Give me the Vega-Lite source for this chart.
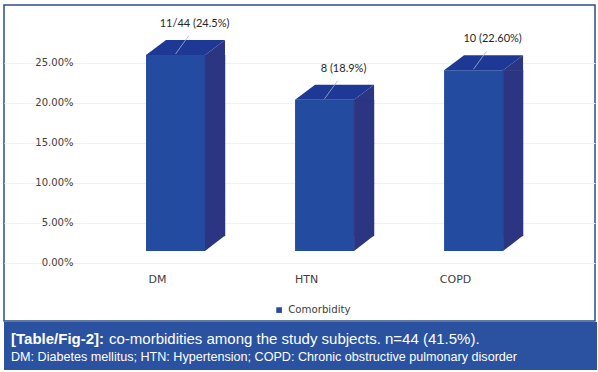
{
  "$schema": "https://vega.github.io/schema/vega-lite/v6.json",
  "background": "white",
  "padding": {"left": 3, "top": 4, "right": 0, "bottom": 0},
  "spacing": 0,
  "config": {"font": "DejaVu Sans"},
  "datasets": {
    "bars": [
      {"category": "DM", "share": 0.245, "label": "11/44 (24.5%)", "series": "Comorbidity"},
      {"category": "HTN", "share": 0.189, "label": "8 (18.9%)", "series": "Comorbidity"},
      {"category": "COPD", "share": 0.226, "label": "10 (22.60%)", "series": "Comorbidity"}
    ],
    "caption": [
      {"prefix": "[Table/Fig-2]:", "line1": "co-morbidities among the study subjects. n=44 (41.5%).", "line2": "DM: Diabetes mellitus; HTN: Hypertension; COPD: Chronic obstructive pulmonary disorder"}
    ]
  },
  "vconcat": [
    {
      "width": 591,
      "height": 316,
      "view": {"stroke": "#2e4c84", "strokeWidth": 1.5, "fill": "white"},
      "data": {"name": "bars"},
      "encoding": {
        "x": {
          "field": "category", "type": "nominal", "sort": null,
          "scale": {"paddingInner": 0, "paddingOuter": 0.483, "align": 0.674},
          "axis": {"title": null, "domain": false, "ticks": false, "labelPadding": 0, "offset": -48, "labelOffset": -18, "labelFont": "DejaVu Sans", "labelFontSize": 11, "labelColor": "#404040", "labelAngle": 0, "labelBaseline": "top", "grid": false}
        },
        "y": {
          "field": "share", "type": "quantitative",
          "scale": {"domain": [-0.0875, 0.3075], "nice": false, "zero": false},
          "axis": {"values": [0, 0.05, 0.1, 0.15, 0.2, 0.25], "format": ".2%", "title": null, "domain": false, "ticks": false, "labelPadding": 0, "offset": -69, "tickOffset": 11.7, "grid": true, "gridColor": "#f0f0f0", "gridWidth": 1, "labelFont": "DejaVu Sans", "labelFontSize": 10, "labelColor": "#404040"}
        }
      },
      "layer": [
        {
          "mark": {"type": "bar", "width": 59},
          "encoding": {
            "color": {
              "field": "series", "type": "nominal",
              "scale": {"range": ["#234ba0"]},
              "legend": {"title": null, "orient": "none", "legendX": 270, "legendY": 300, "padding": 0, "symbolType": "square", "symbolSize": 32, "symbolStrokeWidth": 0, "labelFont": "DejaVu Sans", "labelFontSize": 10.2, "labelColor": "#404040", "labelOffset": 4}
            }
          }
        },
        {
          "mark": {"type": "bar", "width": 20, "xOffset": 39.5, "y2Offset": -15, "color": "#2b3582", "stroke": "#2b3582", "strokeWidth": 0.4},
          "encoding": {"y2": {"datum": 0}}
        },
        {
          "mark": {"type": "point", "shape": "M-29.5,0 L29.5,0 L49.5,-15 L-9.5,-15 Z", "size": 4, "filled": true, "opacity": 1, "color": "#1d3995", "strokeWidth": 0}
        },
        {
          "mark": {"type": "point", "shape": "M29.5,0 L49.5,-15 L49.5,0.5 L29.5,0.5 Z", "size": 4, "filled": true, "opacity": 1, "color": "#2b3582", "strokeWidth": 0}
        },
        {
          "mark": {"type": "point", "shape": "M29.5,-15.5 L49.5,-15.5 L29.5,0 Z", "size": 4, "filled": true, "opacity": 1, "color": "#2b3582", "strokeWidth": 0},
          "encoding": {"y": {"datum": 0, "type": "quantitative"}}
        },
        {
          "mark": {"type": "point", "shape": "M0,-1 L13,-19", "size": 4, "filled": false, "opacity": 1, "stroke": "#a9b1c9", "strokeWidth": 0.8}
        },
        {
          "mark": {"type": "text", "dx": 19, "dy": -31, "baseline": "middle", "align": "center", "font": "Lato", "fontSize": 11, "color": "#262626"},
          "encoding": {"text": {"field": "label"}}
        }
      ]
    },
    {
      "width": 593,
      "height": 48,
      "view": {"stroke": null, "fill": "#2a52a0"},
      "data": {"name": "caption"},
      "layer": [
        {
          "mark": {"type": "text", "align": "left", "baseline": "alphabetic", "font": "Liberation Sans", "fontSize": 15, "fontWeight": "bold", "color": "white"},
          "encoding": {"text": {"field": "prefix"}, "x": {"value": 7}, "y": {"value": 21.5}}
        },
        {
          "mark": {"type": "text", "align": "left", "baseline": "alphabetic", "font": "Liberation Sans", "fontSize": 15, "color": "white", "dx": 98},
          "encoding": {"text": {"field": "line1"}, "x": {"value": 7}, "y": {"value": 21.5}}
        },
        {
          "mark": {"type": "text", "align": "left", "baseline": "alphabetic", "font": "Liberation Sans", "fontSize": 12.6, "color": "white"},
          "encoding": {"text": {"field": "line2"}, "x": {"value": 7}, "y": {"value": 38.5}}
        }
      ]
    }
  ]
}
